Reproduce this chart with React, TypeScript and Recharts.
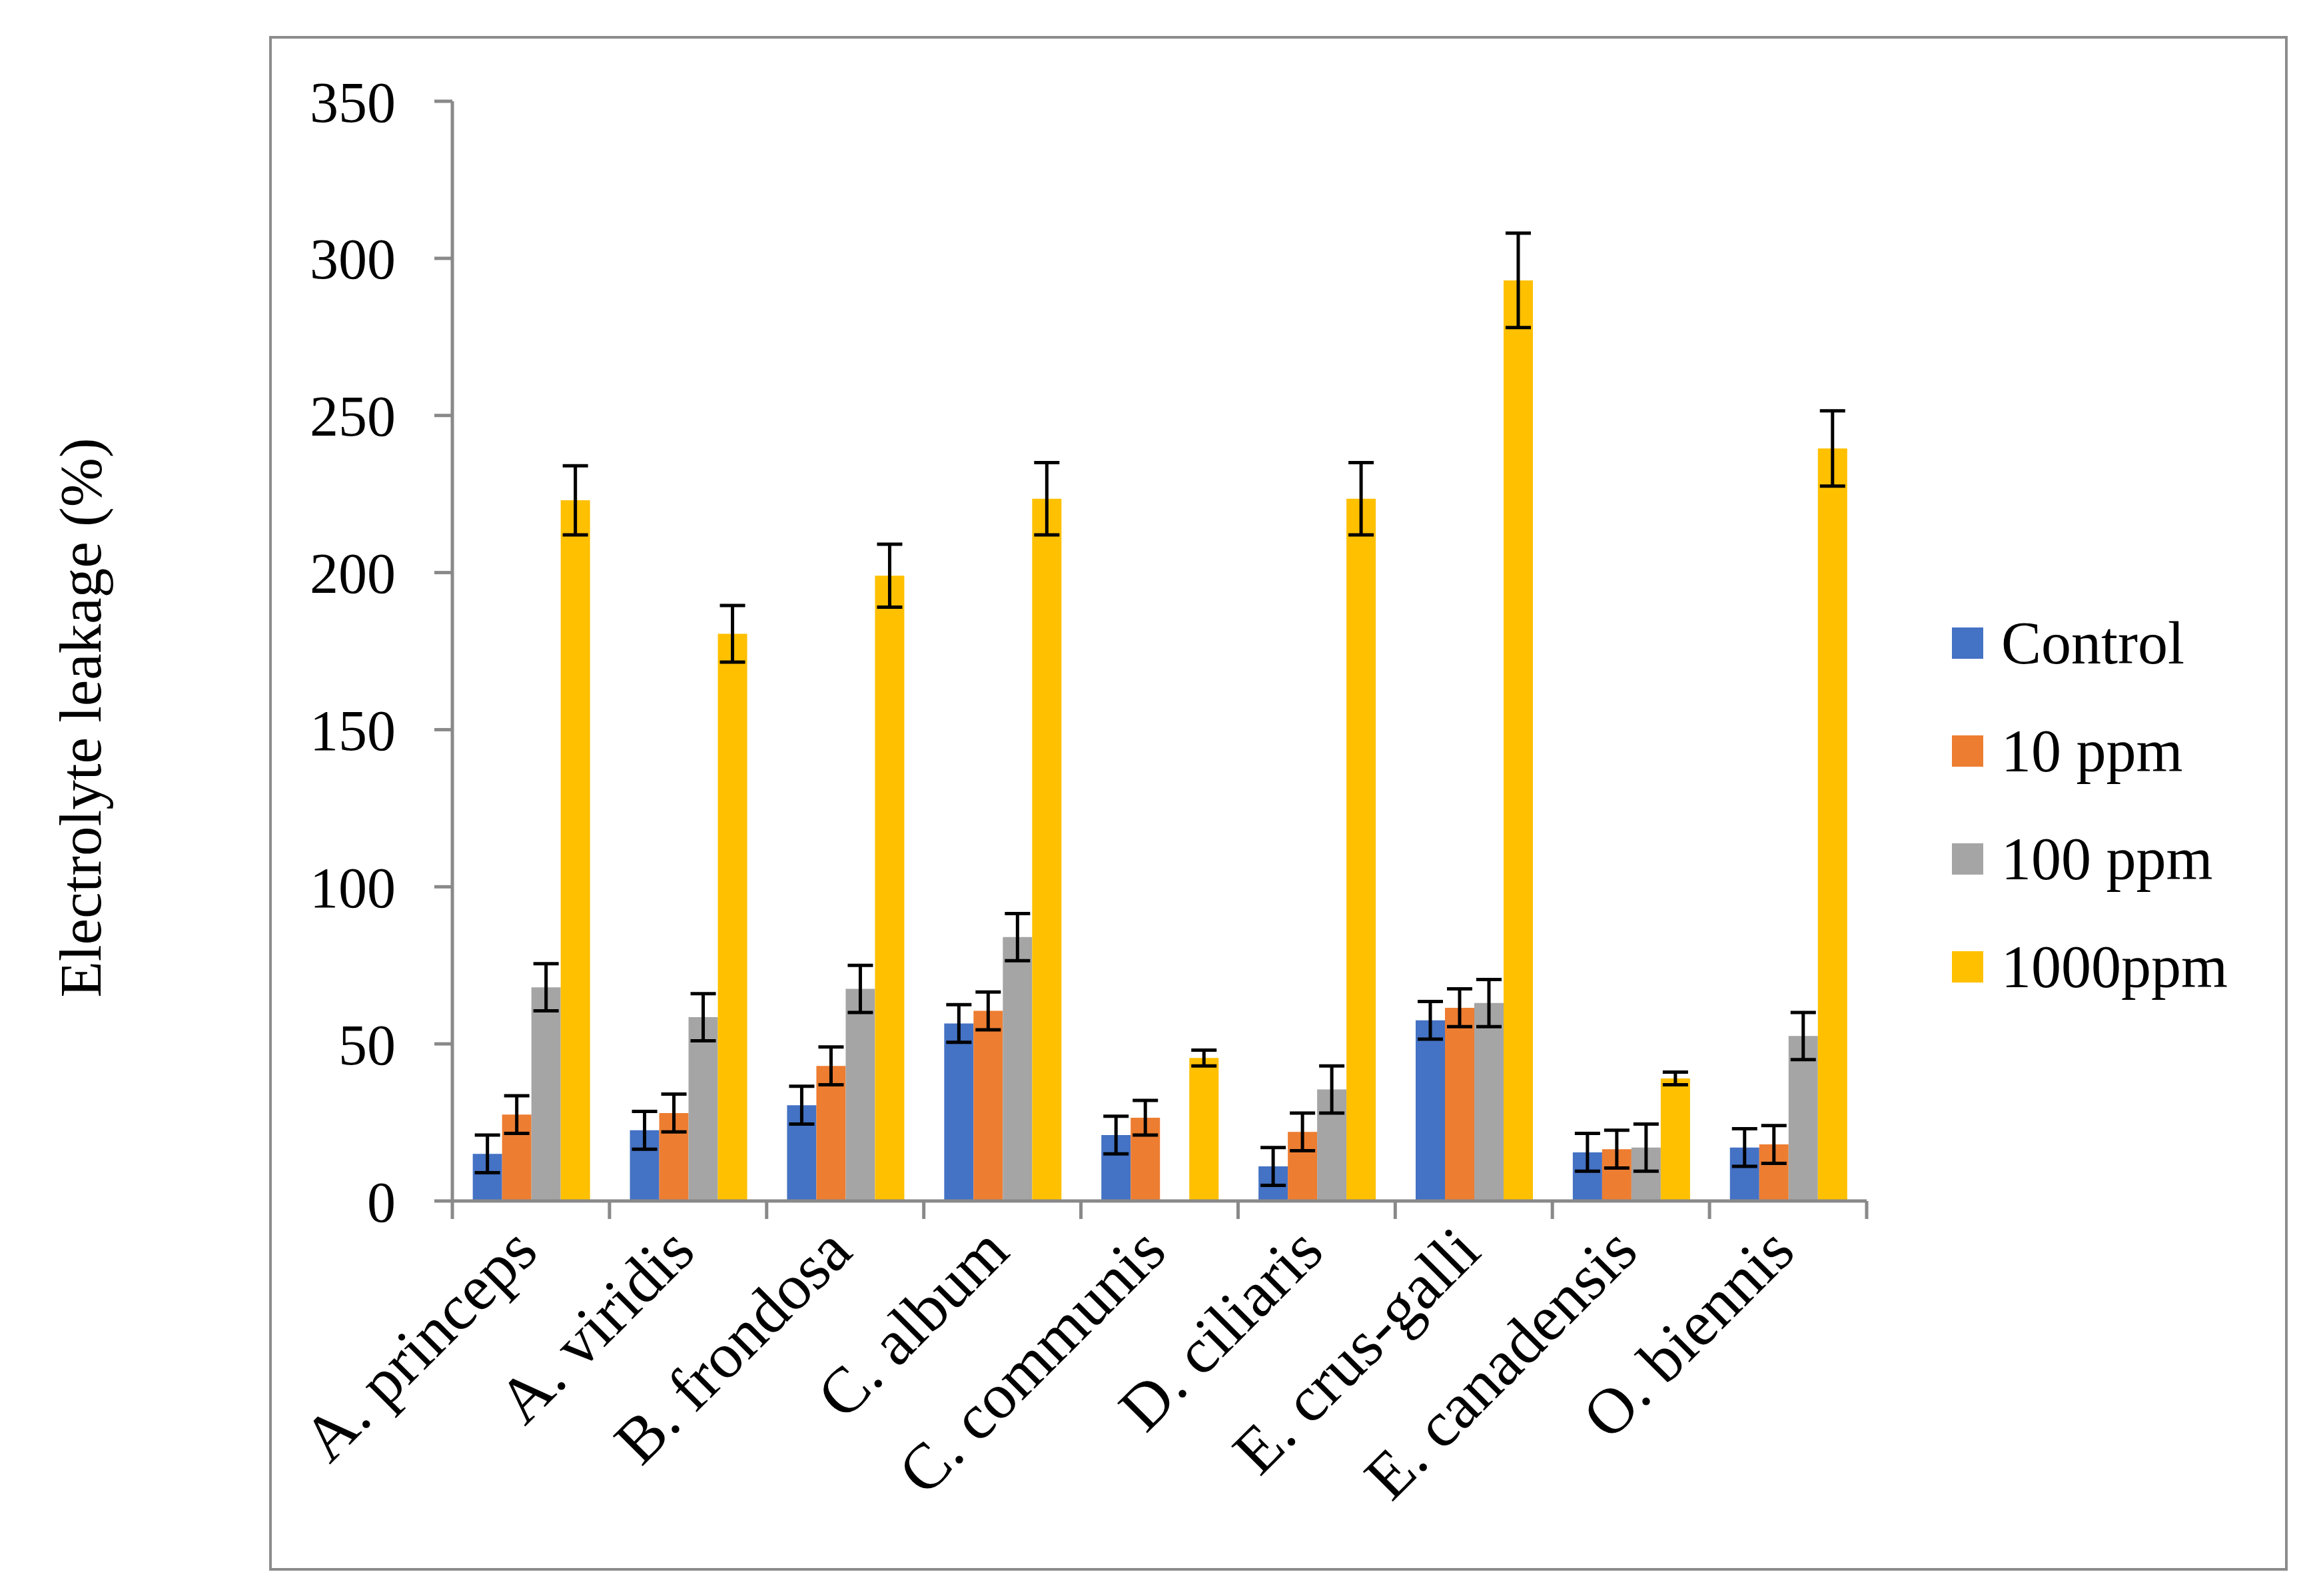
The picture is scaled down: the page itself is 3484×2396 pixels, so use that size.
import { BarChart, Bar, XAxis, YAxis, ErrorBar, Legend } from "recharts";

const species = [
  "A. princeps",
  "A. viridis",
  "B. frondosa",
  "C. album",
  "C. communis",
  "D. ciliaris",
  "E. crus-galli",
  "E. canadensis",
  "O. biennis",
];

const control = [15, 22.5, 30.5, 56.5, 21, 11, 57.5, 15.5, 17];
const controlErr = [6, 6, 6, 6, 6, 6, 6, 6, 6];
const ppm10 = [27.5, 28, 43, 60.5, 26.5, 22, 61.5, 16.5, 18];
const ppm10Err = [6, 6, 6, 6, 5.5, 6, 6, 6, 6];
const ppm100 = [68, 58.5, 67.5, 84, null, 35.5, 63, 17, 52.5];
const ppm100Err = [7.5, 7.5, 7.5, 7.5, null, 7.5, 7.5, 7.5, 7.5];
const ppm1000 = [223, 180.5, 199, 223.5, 45.5, 223.5, 293, 39, 239.5];
const ppm1000Err = [11, 9, 10, 11.5, 2.5, 11.5, 15, 2, 12];

const yTicks = [0, 50, 100, 150, 200, 250, 300, 350];

const seriesNames = ["Control", "10 ppm", "100 ppm", "1000ppm"];
const seriesColors = ["#4472C4", "#ED7D31", "#A5A5A5", "#FFC000"];

const data = species.map((name, i) => ({
  name,
  control: control[i],
  controlErr: controlErr[i],
  ppm10: ppm10[i],
  ppm10Err: ppm10Err[i],
  ppm100: ppm100[i],
  ppm100Err: ppm100Err[i],
  ppm1000: ppm1000[i],
  ppm1000Err: ppm1000Err[i],
}));

const W = 3484;
const H = 2396;
const PLOT_LEFT = 679;
const PLOT_RIGHT = 2802;
const PLOT_TOP = 152;
const PLOT_BOTTOM = 1803;
const BAND = (PLOT_RIGHT - PLOT_LEFT) / species.length;
const FONT = "'Liberation Serif', 'Times New Roman', serif";
const AXIS_GRAY = "#898989";

function CategoryTick(props: any) {
  const { x, y, payload, index } = props;
  const lx = x + 14;
  const ly = y + 80;
  return (
    <g>
      <line x1={x - BAND / 2} y1={y} x2={x - BAND / 2} y2={y + 27} stroke={AXIS_GRAY} strokeWidth={5} />
      {index === species.length - 1 && (
        <line x1={x + BAND / 2} y1={y} x2={x + BAND / 2} y2={y + 27} stroke={AXIS_GRAY} strokeWidth={5} />
      )}
      <text
        x={lx}
        y={ly}
        textAnchor="end"
        transform={`rotate(-45, ${lx}, ${ly})`}
        fontSize={97}
        fontFamily={FONT}
        fill="#000"
      >
        {payload.value}
      </text>
    </g>
  );
}

function LegendBox() {
  return (
    <div style={{ fontFamily: FONT, fontSize: 90, color: "#000" }}>
      {seriesNames.map((n, i) => (
        <div key={n} style={{ display: "flex", alignItems: "center", height: 162 }}>
          <div style={{ width: 47, height: 47, background: seriesColors[i], marginRight: 27 }} />
          <span>{n}</span>
        </div>
      ))}
    </div>
  );
}

export default function App() {
  return (
    <div style={{ position: "absolute", left: 0, top: 0, width: W, height: H, background: "#fff" }}>
      <div
        style={{
          position: "absolute",
          left: 404,
          top: 54,
          width: 3434 - 404,
          height: 2358 - 54,
          border: "4px solid #8c8c8c",
          boxSizing: "border-box",
        }}
      />
      <div style={{ position: "absolute", left: 0, top: 0 }}>
        <BarChart
          width={W}
          height={H}
          data={data}
          margin={{ top: PLOT_TOP, right: W - PLOT_RIGHT, bottom: 0, left: PLOT_LEFT - 200 }}
          barCategoryGap="13%"
          barGap={0}
        >
          <XAxis
            dataKey="name"
            height={H - PLOT_BOTTOM}
            interval={0}
            tickLine={false}
            tickSize={0}
            tickMargin={0}
            axisLine={{ stroke: AXIS_GRAY, strokeWidth: 5 }}
            tick={<CategoryTick />}
          />
          <YAxis
            width={200}
            domain={[0, 350]}
            ticks={yTicks}
            interval={0}
            tickSize={27}
            tickMargin={58}
            axisLine={{ stroke: AXIS_GRAY, strokeWidth: 5 }}
            tickLine={{ stroke: AXIS_GRAY, strokeWidth: 5 }}
            tick={{ fill: "#000", fontSize: 86, fontFamily: FONT }}
            label={{
              value: "Electrolyte leakage (%)",
              angle: -90,
              position: "center",
              dx: -460,
              dy: 100,
              fill: "#000",
              fontSize: 89,
              fontFamily: FONT,
            }}
          />
          <Legend
            layout="vertical"
            align="center"
            verticalAlign="middle"
            wrapperStyle={{ left: 2930, top: 884, width: 520 }}
            content={<LegendBox />}
          />
          <Bar dataKey="control" name="Control" fill={seriesColors[0]} isAnimationActive={false}>
            <ErrorBar dataKey="controlErr" width={19} strokeWidth={5} stroke="#000" direction="y" />
          </Bar>
          <Bar dataKey="ppm10" name="10 ppm" fill={seriesColors[1]} isAnimationActive={false}>
            <ErrorBar dataKey="ppm10Err" width={19} strokeWidth={5} stroke="#000" direction="y" />
          </Bar>
          <Bar dataKey="ppm100" name="100 ppm" fill={seriesColors[2]} isAnimationActive={false}>
            <ErrorBar dataKey="ppm100Err" width={19} strokeWidth={5} stroke="#000" direction="y" />
          </Bar>
          <Bar dataKey="ppm1000" name="1000ppm" fill={seriesColors[3]} isAnimationActive={false}>
            <ErrorBar dataKey="ppm1000Err" width={19} strokeWidth={5} stroke="#000" direction="y" />
          </Bar>
        </BarChart>
      </div>
    </div>
  );
}
